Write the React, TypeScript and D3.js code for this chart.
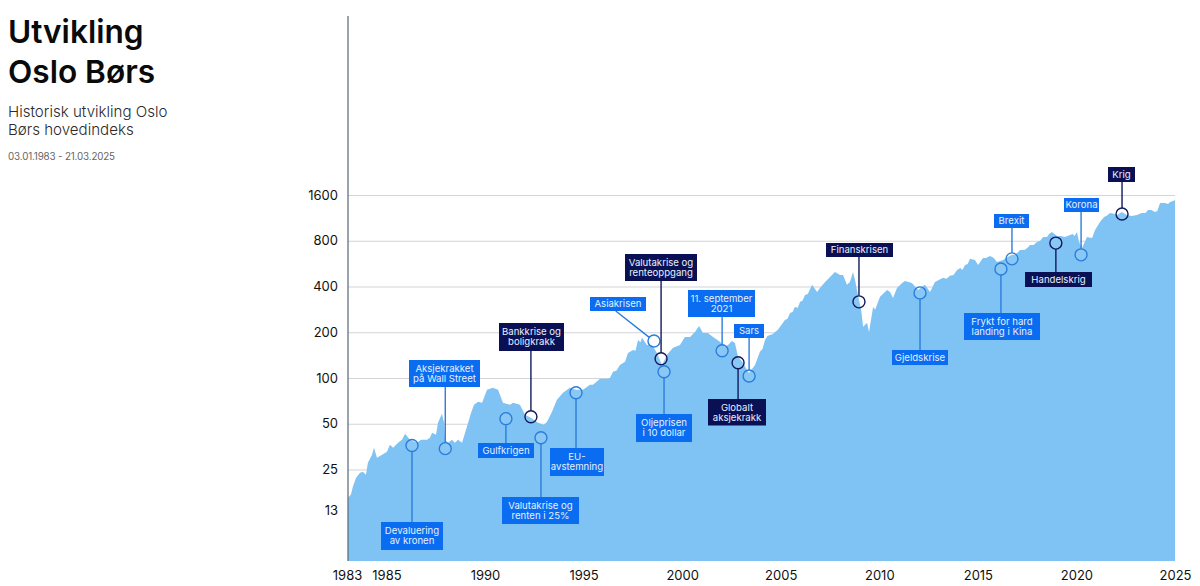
import { useEffect, useRef, type FC } from "react";
import * as d3 from "d3";

const WIDTH = 1200;
const HEIGHT = 586;

// index: year + closing level
const years = [
  1983.0, 1983.15, 1983.25, 1983.41, 1983.61, 1983.76, 1983.91, 1984.01, 1984.22, 1984.32, 1984.47, 1984.73, 1984.98,
  1985.13, 1985.29, 1985.54, 1985.74, 1985.9, 1986.15, 1986.5, 1986.71, 1987.01, 1987.16, 1987.27, 1987.47, 1987.57,
  1987.77, 1987.88, 1987.93, 1988.08, 1988.28, 1988.43, 1988.59, 1988.79, 1989.04, 1989.25, 1989.4, 1989.6, 1989.81,
  1990.06, 1990.36, 1990.62, 1990.87, 1991.23, 1991.38, 1991.73, 1991.99, 1992.29, 1992.65, 1992.95, 1993.11, 1993.36,
  1993.61, 1993.92, 1994.27, 1994.58, 1994.93, 1995.29, 1995.44, 1995.8, 1996.15, 1996.46, 1996.81, 1997.07, 1997.22,
  1997.47, 1997.73, 1997.93, 1998.18, 1998.44, 1998.69, 1998.95, 1999.2, 1999.51, 1999.86, 2000.11, 2000.37, 2000.62,
  2000.83, 2001.03, 2001.28, 2001.54, 2001.89, 2002.15, 2002.3, 2002.5, 2002.65, 2002.81, 2003.06, 2003.31, 2003.37,
  2003.67, 2003.92, 2004.18, 2004.43, 2004.69, 2004.94, 2005.19, 2005.45, 2005.7, 2005.96, 2006.21, 2006.57, 2006.82,
  2006.97, 2007.23, 2007.48, 2007.73, 2007.99, 2008.14, 2008.34, 2008.49, 2008.65, 2008.75, 2008.9, 2009.06, 2009.16,
  2009.36, 2009.46, 2009.67, 2009.77, 2010.02, 2010.38, 2010.53, 2010.68, 2010.88, 2011.14, 2011.29, 2011.64, 2011.95,
  2012.3, 2012.56, 2012.81, 2013.22, 2013.57, 2013.93, 2014.34, 2014.59, 2014.84, 2015.0, 2015.25, 2015.61, 2015.96,
  2016.27, 2016.72, 2016.98, 2017.13, 2017.64, 2017.99, 2018.3, 2018.75, 2019.01, 2019.41, 2019.67, 2020.02, 2020.13,
  2020.28, 2020.53, 2020.79, 2020.94, 2021.19, 2021.7, 2022.06, 2022.56, 2023.07, 2023.63, 2023.98, 2024.24, 2024.75,
  2025.0,
];
const index = [
  16.3, 17.1, 19.3, 22.1, 23.8, 24.2, 23.1, 27.7, 31.3, 34.8, 29.9, 31.3, 32.7,
  36.4, 34.8, 37.5, 39.2, 43, 39.2, 37.5, 39.2, 39.2, 40.4, 43.6, 42.3, 50.8,
  58.2, 50.8, 39.2, 37.5, 39.2, 37.5, 39.2, 37.5, 47.8, 59, 66.6, 69.8, 68.7,
  83.6, 86.2, 83.6, 68.7, 66.6, 68.7, 66.6, 57.3, 54.8, 50.8, 49.3, 51.6, 60,
  71.9, 79.9, 86.2, 83.6, 83.6, 90.2, 90.2, 98.7, 98.7, 110, 122, 128, 146,
  153, 178, 184, 165, 165, 146, 122, 142, 158, 165, 186, 186, 201,
  220, 198, 198, 186, 173, 160, 165, 175, 170, 138, 126, 110, 108,
  122, 149, 178, 192, 201, 217, 241, 268, 294, 317, 352, 410, 368,
  391, 429, 462, 499, 477, 477, 410, 429, 499, 442, 352, 281, 217,
  231, 201, 294, 281, 342, 380, 368, 336, 391, 422, 435, 422, 380,
  410, 368, 429, 456, 470, 514, 554, 608, 598, 554, 616, 636, 580,
  598, 646, 665, 696, 749, 785, 847, 914, 860, 847, 874, 914, 785,
  717, 847, 834, 942, 1063, 1218, 1182, 1182, 1182, 1274, 1237, 1417, 1440,
  1483,
];

// extra readings where the outline has small steps and notches
const stepYears = [
  1996.3, 1996.64, 1997.6, 1997.85, 2003.77, 2004.05, 2004.3, 2004.56, 2004.82, 2005.32, 2005.58, 2005.83, 2006.08,
  2006.35, 2013.4, 2013.75, 2014.1, 2014.2, 2014.47, 2015.4, 2015.8, 2016.5, 2016.85, 2017.35, 2017.5, 2017.82,
  2018.15, 2018.5, 2018.6, 2019.2, 2019.8, 2019.9, 2021.4, 2021.55, 2021.85, 2022.3, 2022.8, 2023.3, 2023.5, 2023.8,
  2024.1, 2024.5, 2024.65, 2024.9,
];
const stepIndex = [
  100, 112, 151, 172, 132, 155, 189, 194, 207, 245, 272, 289, 322,
  357, 449, 477, 530, 514, 562, 616, 616, 626, 646, 696, 717, 749,
  799, 847, 886, 860, 886, 860, 1146, 1172, 1210, 1237, 1164, 1218, 1218, 1274,
  1255, 1417, 1395, 1460,
];

const yearTicks = [1983, 1985, 1990, 1995, 2000, 2005, 2010, 2015, 2020, 2025];
const levelTicks = [1600, 800, 400, 200, 100, 50, 25, 13];

const eventLabels = [
  ["Devaluering", "av kronen"],
  ["Aksjekrakket", "på Wall Street"],
  ["Gulfkrigen"],
  ["Bankkrise og", "boligkrakk"],
  ["Valutakrise og", "renten i 25%"],
  ["EU-", "avstemning"],
  ["Asiakrisen"],
  ["Valutakrise og", "renteoppgang"],
  ["Oljeprisen", "i 10 dollar"],
  ["11. september", "2021"],
  ["Sars"],
  ["Globalt", "aksjekrakk"],
  ["Finanskrisen"],
  ["Gjeldskrise"],
  ["Frykt for hard", "landing i Kina"],
  ["Brexit"],
  ["Handelskrig"],
  ["Korona"],
  ["Krig"],
];
const eventYears = [
  1986.25, 1987.94, 1991.02, 1992.29, 1992.8, 1994.58, 1998.54, 1998.9, 1999.05, 2002, 2003.37, 2002.81, 2008.95,
  2012.05, 2016.16, 2016.72, 2018.95, 2020.23, 2022.31,
];
const eventLevels = [36, 34.3, 54, 55.6, 40.4, 80, 175, 134, 110, 151, 103, 126, 317, 363, 522, 608, 772, 646, 1200];
const eventMajor = [
  false, false, false, true, false, false, false, true, false, false, false, true, true, false, false, false, true,
  false, true,
];

// label boxes in page pixels: left, top, right, bottom
const labelBoxes = [
  [381, 522, 443, 550],
  [409, 360, 480, 387],
  [478, 443, 534, 458],
  [499, 323, 564, 351],
  [502, 497, 579, 524],
  [550, 448, 604, 476],
  [590, 297, 646, 311],
  [625, 254, 697, 281],
  [636, 414, 692, 442],
  [688, 290, 755, 317],
  [734, 324, 764, 338],
  [708, 399, 766, 425.5],
  [826, 243, 893, 257],
  [892, 350, 948, 365],
  [964, 313, 1040, 340],
  [994, 214, 1029, 228],
  [1025, 272, 1092, 287],
  [1064, 198, 1099, 212],
  [1108, 167, 1135, 182],
];

const FONT = "Inter, 'Noto Sans', sans-serif";
const BLUE = "#0a6cf0";
const NAVY = "#0a1054";

export const App: FC = () => {
  const svgRef = useRef<SVGSVGElement | null>(null);

  useEffect(() => {
    if (!svgRef.current) return;

    d3.select(svgRef.current).selectAll("*").remove();
    const svg = d3.select(svgRef.current);

    const x = d3.scaleLinear().domain([1983, 2025]).range([348, 1175]);
    // the year labels sit a touch left of the data scale in the original
    const xLabels = d3.scaleLinear().domain([1983, 2025]).range([347, 1175]);
    const y = d3.scaleLog().base(2).domain([6.25, 1600]).range([561, 195]);

    // Grid + y labels
    const yAxis = svg
      .append("g")
      .attr("transform", "translate(348,0)")
      .call(d3.axisLeft(y).tickValues(levelTicks).tickFormat(d3.format("d")).tickSize(-827).tickPadding(10));
    yAxis.select(".domain").remove();
    yAxis.selectAll("line").attr("stroke", "#d3d3d8").attr("stroke-width", 1.1);
    yAxis
      .selectAll("text")
      .attr("x", -10)
      .attr("font-family", FONT)
      .attr("font-size", 13)
      .attr("fill", "#111")
      .attr("dy", (d) => (d === 13 ? "0.15em" : "0.32em"));

    // Area
    const outline = d3.sort(
      [...years.map((yr, i) => [yr, index[i]]), ...stepYears.map((yr, i) => [yr, stepIndex[i]])],
      (d) => d[0]
    );
    const area = d3
      .area<number[]>()
      .x((d) => x(d[0]))
      .y0(561)
      .y1((d) => y(d[1]));
    svg.append("path").datum(outline).attr("d", area).attr("fill", "#7fc3f4");

    // Axis line
    svg
      .append("line")
      .attr("x1", 348)
      .attr("x2", 348)
      .attr("y1", 16)
      .attr("y2", 561)
      .attr("stroke", "#5f6f7d")
      .attr("stroke-opacity", 0.85)
      .attr("stroke-width", 1.5);

    // X labels
    const xAxis = svg
      .append("g")
      .attr("transform", "translate(0,561)")
      .call(d3.axisBottom(xLabels).tickValues(yearTicks).tickFormat(d3.format("d")).tickSize(0).tickPadding(10));
    xAxis.select(".domain").remove();
    xAxis.selectAll("text").attr("font-family", FONT).attr("font-size", 13).attr("fill", "#111");

    // Events
    eventLabels.forEach((lines, i) => {
      const [left, top, right, bottom] = labelBoxes[i];
      const cx = x(eventYears[i]);
      const cy = y(eventLevels[i]);
      const fill = eventMajor[i] ? NAVY : BLUE;
      const stroke = eventMajor[i] ? "#101a5c" : "#2a7ddc";
      const r = 6;

      const fromX = cx < left || cx > right ? left + (right - left) * 0.46 : cx;
      const fromY = bottom < cy ? bottom : top;
      const len = Math.hypot(cx - fromX, cy - fromY);
      svg
        .append("line")
        .attr("x1", fromX)
        .attr("y1", fromY)
        .attr("x2", cx - ((cx - fromX) / len) * r)
        .attr("y2", cy - ((cy - fromY) / len) * r)
        .attr("stroke", stroke)
        .attr("stroke-width", 1.4);

      svg
        .append("circle")
        .attr("cx", cx)
        .attr("cy", cy)
        .attr("r", r)
        .attr("fill", "#fff")
        .attr("fill-opacity", 0.08)
        .attr("stroke", stroke)
        .attr("stroke-width", 1.4);

      svg
        .append("rect")
        .attr("x", left)
        .attr("y", top)
        .attr("width", right - left)
        .attr("height", bottom - top)
        .attr("fill", fill);

      const cxBox = (left + right) / 2;
      const firstY = (top + bottom) / 2 - ((lines.length - 1) / 2) * 10 + 3.4;
      const label = svg
        .append("text")
        .attr("text-anchor", "middle")
        .attr("font-family", FONT)
        .attr("font-size", 9.6)
        .attr("fill", "#e6f0ff");
      lines.forEach((line, j) => {
        label
          .append("tspan")
          .attr("x", cxBox)
          .attr("y", firstY + j * 10)
          .text(line);
      });
    });

    // Heading
    const heading = svg.append("g").attr("font-family", FONT);
    const addText = (t: string, ty: number, size: number, weight: number, color: string) =>
      heading
        .append("text")
        .attr("x", 8)
        .attr("y", ty)
        .attr("font-size", size)
        .attr("font-weight", weight)
        .attr("fill", color)
        .text(t);
    addText("Utvikling", 43, 31.6, 600, "#0a0a0a");
    addText("Oslo Børs", 83, 31.6, 600, "#0a0a0a");
    addText("Historisk utvikling Oslo", 117, 15.1, 300, "#2a2a2a");
    addText("Børs hovedindeks", 135, 15.1, 300, "#2a2a2a");
    addText("03.01.1983 - 21.03.2025", 160, 9.8, 400, "#666").attr("letter-spacing", -0.15);
  }, []);

  return (
    <svg
      ref={svgRef}
      width={WIDTH}
      height={HEIGHT}
      style={{ position: "absolute", left: 0, top: 0, background: "#fff" }}
    ></svg>
  );
};

export default App;
